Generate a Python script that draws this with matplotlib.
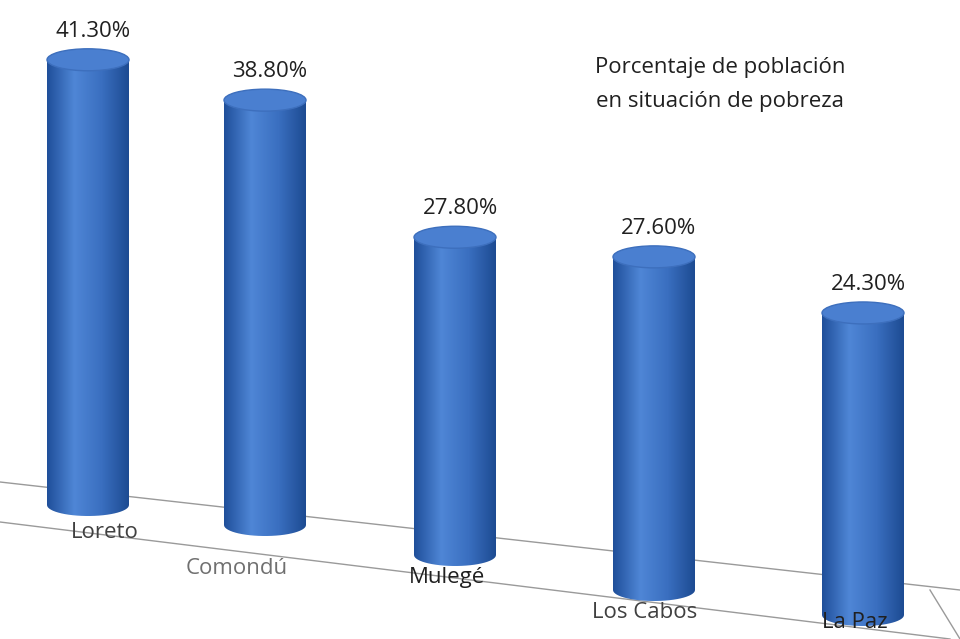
import matplotlib
matplotlib.use("Agg")
import matplotlib.pyplot as plt
import numpy as np
from matplotlib.patches import Ellipse, Polygon
from matplotlib.colors import LinearSegmentedColormap

categories = ["Loreto", "Comondú", "Mulegé", "Los Cabos", "La Paz"]
values = [41.3, 38.8, 27.8, 27.6, 24.3]
value_labels = ["41.30%", "38.80%", "27.80%", "27.60%", "24.30%"]

# perspective styling (pixel space)
centers = [88, 265, 455, 654, 863]
bases = [505, 525, 555, 590, 615]
scales = [10.78, 10.95, 11.43, 12.07, 12.43]
width = 82
cap_h = 22
cat_pos = [(105, 532), (237, 568), (447, 578), (645, 612), (855, 622)]
cat_colors = ["#404040", "#707070", "#202020", "#404040", "#202020"]

plt.rcParams['font.family'] = ['Open Sans', 'DejaVu Sans']
fig = plt.figure(figsize=(9.6, 6.39), dpi=100)
ax = fig.add_axes([0, 0, 1, 1])
ax.set_xlim(0, 960)
ax.set_ylim(639, 0)
ax.axis('off')

# floor
ax.plot([0, 960], [482, 590], color="#9a9a9a", lw=1)
ax.plot([0, 950], [522, 639], color="#9a9a9a", lw=1)
ax.plot([930, 960], [590, 639], color="#9a9a9a", lw=1)

cmap = LinearSegmentedColormap.from_list("c", ["#1f4f9a", "#4f86d6", "#3a6fc0", "#1d4b92"])

for i, v in enumerate(values):
    cx, base, s = centers[i], bases[i], scales[i]
    top = base - v * s
    x0 = cx - width / 2
    body = Polygon([[x0, top], [x0 + width, top], [x0 + width, base]] +
                   [[cx + width / 2 * np.cos(t), base + cap_h / 2 * np.sin(t)] for t in np.linspace(0, np.pi, 30)] +
                   [[x0, base]], closed=True, facecolor="none", edgecolor="none")
    ax.add_patch(body)
    im = ax.imshow(np.tile(np.linspace(0, 1, 256), (2, 1)), cmap=cmap, aspect='auto',
                   extent=[x0, x0 + width, base + cap_h / 2, top], zorder=2)
    im.set_clip_path(body)
    ax.add_patch(Ellipse((cx, top), width, cap_h, facecolor="#4a7fd0", edgecolor="#3d6fbd", lw=1, zorder=3))
    ax.text(cx + 5, top - 18, value_labels[i], ha='center', va='bottom', fontsize=16, color="#202020")
    ax.text(cat_pos[i][0], cat_pos[i][1], categories[i], ha='center', va='center', fontsize=16,
            color=cat_colors[i], zorder=4)

ax.text(720, 67, "Porcentaje de población", ha='center', va='center', fontsize=16, color="#202020")
ax.text(720, 101, "en situación de pobreza", ha='center', va='center', fontsize=16, color="#202020")

fig.savefig("out.png", dpi=100)
